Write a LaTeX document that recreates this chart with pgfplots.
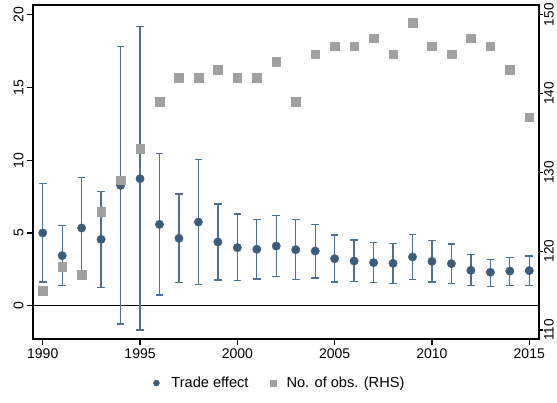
\documentclass[border=0pt]{standalone}
\usepackage{fontspec}
\setmainfont{Liberation Sans}
\usepackage{pgfplots}
\usepackage{pgfplotstable}
\pgfplotsset{compat=1.18}
\definecolor{tradecol}{HTML}{3B5C7A}
\definecolor{barcol}{HTML}{4F7090}
\definecolor{obscol}{HTML}{A0A0A0}
\pgfplotstableread{
x y lo hi obs
1990 5.00 1.63 8.38 115
1991 3.44 1.37 5.50 118
1992 5.34 1.88 8.80 117
1993 4.56 1.24 7.84 125
1994 8.27 -1.26 17.80 129
1995 8.73 -1.67 19.18 133
1996 5.59 0.74 10.47 139
1997 4.63 1.61 7.68 142
1998 5.75 1.47 10.03 142
1999 4.38 1.77 6.99 143
2000 3.99 1.72 6.30 142
2001 3.88 1.84 5.91 142
2002 4.10 1.99 6.20 144
2003 3.85 1.79 5.94 139
2004 3.76 1.90 5.59 145
2005 3.23 1.63 4.86 146
2006 3.07 1.68 4.52 146
2007 2.96 1.61 4.33 147
2008 2.91 1.54 4.26 145
2009 3.35 1.81 4.90 149
2010 3.05 1.63 4.47 146
2011 2.89 1.54 4.24 145
2012 2.43 1.37 3.51 147
2013 2.30 1.33 3.16 146
2014 2.38 1.40 3.33 143
2015 2.41 1.40 3.42 137
}\datatable
\newcommand{\fs}{\fontsize{14}{16}\selectfont}
\newcommand{\fl}{\fontsize{14.6}{17}\selectfont}
\begin{document}
\begin{tikzpicture}
\pgfplotsset{
  common/.style={
    scale only axis, width=506pt, height=334pt,
    at={(0pt,0pt)}, anchor=south west,
    xmin=1989.5, xmax=2015.5,
    tick align=outside, major tick length=6pt,
    tick style={black, line width=1.2pt},
    axis line style={black, line width=1.4pt},
    /pgf/number format/assume math mode=true,
    /pgf/number format/1000 sep={},
    tick label style={font=\fs},
  }
}
\begin{axis}[common,
  ymin=-2.29, ymax=20.67,
  xtick={1990,1995,...,2015},
  ytick={0,5,10,15,20},
  xtick pos=bottom, ytick pos=left,
  yticklabel style={rotate=90, anchor=south},
]
\addplot[black, line width=1.2pt, forget plot] coordinates {(1989.5,0) (2015.5,0)};
\addplot[draw=none, mark=none, forget plot,
  error bars/.cd, y dir=both, y explicit,
  error bar style={barcol, line width=1.3pt},
  error mark options={rotate=90, mark size=3.8pt, barcol, line width=1.3pt}]
  table[x=x, y=y, y error plus expr=\thisrow{hi}-\thisrow{y}, y error minus expr=\thisrow{y}-\thisrow{lo}] {\datatable};
\addplot[only marks, mark=*, mark size=4.2pt, tradecol, forget plot] table[x=x, y=y] {\datatable};
\end{axis}
\begin{axis}[common,
  ymin=108.86, ymax=151.23,
  hide x axis,
  axis y line*=right,
  ytick={110,120,...,150},
  ytick pos=right,
  major tick length=4.5pt,
  yticklabel style={rotate=90, anchor=north, inner sep=0.5pt, font=\fontsize{13.6}{16}\selectfont},
  legend columns=2,
  legend style={at={(0.488,-0.132)}, anchor=center, draw=none, fill=none, font=\fl,
    /tikz/column 1/.style={column sep=10pt},
    /tikz/column 2/.style={column sep=20pt},
    /tikz/column 3/.style={column sep=8pt}},
  legend cell align=left,
]
\addlegendimage{only marks, mark=*, mark size=3pt, tradecol}
\addlegendentry{Trade effect}
\addlegendimage{only marks, mark=square*, mark size=3pt, obscol}
\addlegendentry{No. of obs. (RHS)}
\addplot[only marks, mark=square*, mark size=4.3pt, obscol, forget plot] table[x=x, y=obs] {\datatable};
\end{axis}
\pgfresetboundingbox
\path (-33pt,-63pt) rectangle (524pt,339pt);
\end{tikzpicture}
\end{document}
